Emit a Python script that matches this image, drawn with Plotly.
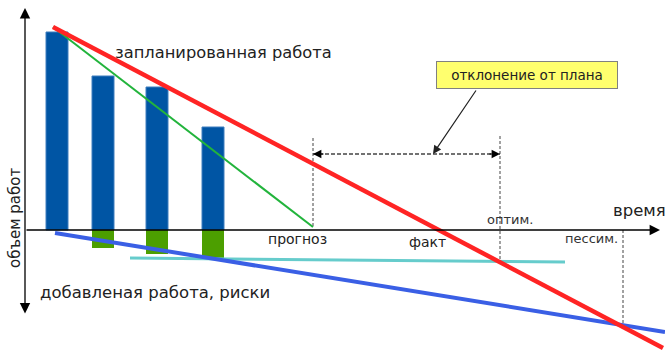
import plotly.graph_objects as go

# time axis (x) and work volume (y); origin = where the axes cross
bar_time = [32, 78, 132, 188]
planned_done = [198, 154, 143, 103]
added_work = [0, -18, -24, -28]

plan_x = [28, 638]
plan_y = [203, -118]
forecast_x = [28, 288]
forecast_y = [203, 3]
risk_x = [30, 640]
risk_y = [-3, -102]
fact_x = [105, 540]
fact_y = [-28, -32]

forecast_t = 288
optim_t = 475
optim_v = -31
pessim_t = 598
pessim_v = -97
deviation_v = 76

FONT = "DejaVu Sans"
TXT = "#222222"

fig = go.Figure()

fig.add_trace(go.Bar(x=bar_time, y=planned_done, width=22,
                     marker=dict(color="#0055a4", line=dict(width=1, color="#3f7fbf"))))
fig.add_trace(go.Bar(x=bar_time, y=added_work, width=22,
                     marker=dict(color="#4c9f00", line=dict(width=0))))

# dashed guides
dash_style = dict(color="#444444", width=1, dash="3px,2px")
fig.add_trace(go.Scatter(x=[forecast_t, forecast_t], y=[92, forecast_y[1]],
                         mode="lines", line=dash_style))
fig.add_trace(go.Scatter(x=[optim_t, optim_t], y=[94, optim_v],
                         mode="lines", line=dash_style))
fig.add_trace(go.Scatter(x=[pessim_t, pessim_t], y=[0, pessim_v],
                         mode="lines", line=dash_style))
fig.add_trace(go.Scatter(x=[forecast_t, optim_t], y=[deviation_v, deviation_v],
                         mode="lines", line=dict(color="#444444", width=1.3, dash="4px,2px")))

# trend lines
fig.add_trace(go.Scatter(x=fact_x, y=fact_y, mode="lines",
                         line=dict(color="#66cccc", width=3)))
fig.add_trace(go.Scatter(x=risk_x, y=risk_y, mode="lines",
                         line=dict(color="#3a5fe5", width=4)))
fig.add_trace(go.Scatter(x=forecast_x, y=forecast_y, mode="lines",
                         line=dict(color="#22b43c", width=2)))
fig.add_trace(go.Scatter(x=plan_x, y=plan_y, mode="lines",
                         line=dict(color="#ff2424", width=4.5)))

ann = []
# axes with arrows
ann.append(dict(x=635, y=0, ax=0, ay=0, xref="x", yref="y", axref="x", ayref="y",
                text="", showarrow=True, arrowhead=2, arrowsize=1.6, arrowwidth=1.3,
                arrowcolor="black"))
ann.append(dict(x=0, y=222, ax=0, ay=-85, xref="x", yref="y", axref="x", ayref="y",
                text="", showarrow=True, arrowhead=2, arrowsize=1.6, arrowwidth=1.3,
                arrowcolor="black", arrowside="end+start"))
# deviation double arrow heads
ann.append(dict(x=forecast_t, y=deviation_v, ax=12, ay=0, text="", showarrow=True,
                arrowhead=2, arrowsize=1.4, arrowwidth=1.2, arrowcolor="black"))
ann.append(dict(x=optim_t, y=deviation_v, ax=-12, ay=0, text="", showarrow=True,
                arrowhead=2, arrowsize=1.4, arrowwidth=1.2, arrowcolor="black"))
# callout arrow and box
ann.append(dict(x=408, y=deviation_v, ax=452, ay=141, xref="x", yref="y",
                axref="x", ayref="y", text="", showarrow=True, arrowhead=2,
                arrowsize=1.4, arrowwidth=1.2, arrowcolor="#222222"))
ann.append(dict(x=502, y=155, text="отклонение от плана", showarrow=False,
                bgcolor="#ffff6e", bordercolor="#808080", borderwidth=1,
                width=178, height=24, font=dict(family=FONT, size=13.5, color=TXT)))

labels = [
    ("запланированная работа", 88, 178, "left", 16.3, 0),
    ("добавленая работа, риски", 13, -62, "left", 16.5, 0),
    ("прогноз", 272, -9, "center", 14, 0),
    ("факт", 402, -12, "center", 14, 0),
    ("оптим.", 485, 11, "center", 13, 0),
    ("пессим.", 566, -8, "center", 13, 0),
    ("время", 614, 20, "center", 16.5, 0),
    ("объем работ", -10, 12, "center", 15, -90),
]
for txt, x, y, xa, size, ang in labels:
    ann.append(dict(x=x, y=y, text=txt, showarrow=False, xanchor=xa, yanchor="middle",
                    textangle=ang, font=dict(family=FONT, size=size,
                                             color="#333333" if size == 13 else TXT)))

fig.update_layout(
    width=665, height=350,
    margin=dict(l=0, r=0, t=0, b=0),
    plot_bgcolor="white", paper_bgcolor="white",
    showlegend=False, barmode="overlay",
    xaxis=dict(range=[-25, 640], visible=False, fixedrange=True),
    yaxis=dict(range=[-120, 230], visible=False, fixedrange=True),
    annotations=ann,
)

fig.write_html("out.html", config={"staticPlot": True},
               post_script="document.body.style.margin='0';")
